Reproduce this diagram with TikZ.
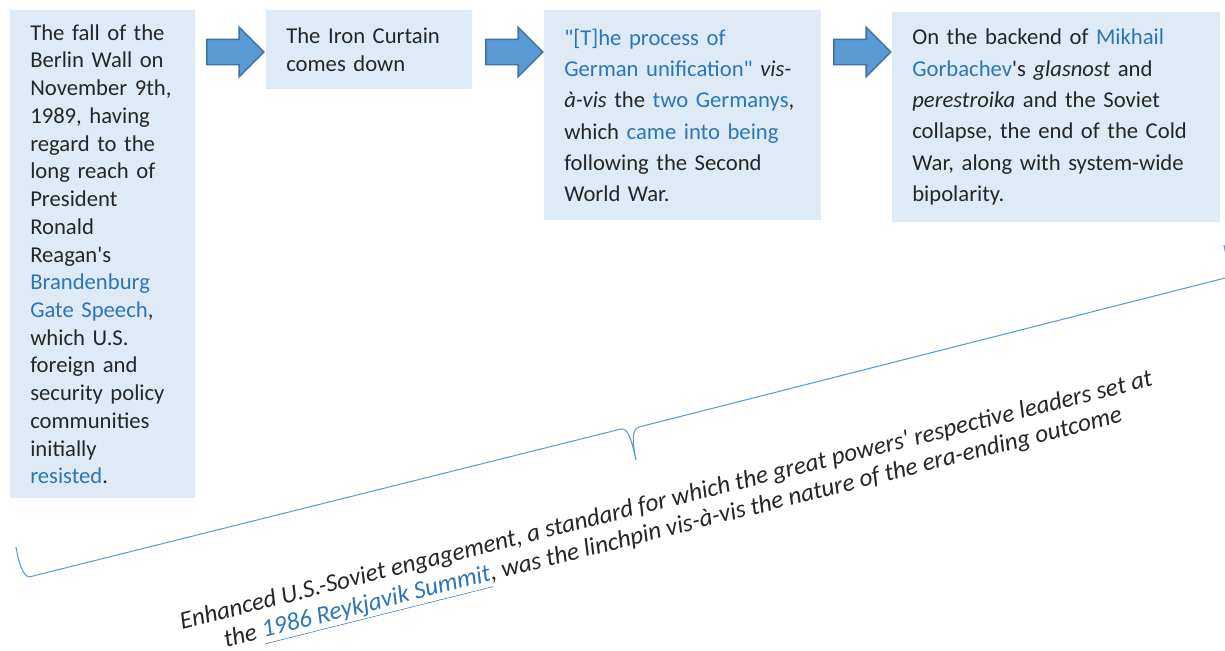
\documentclass[tikz,border=0pt]{standalone}
\usepackage{fontspec}
\setmainfont{Carlito}[Ligatures=TeXOff]
\usetikzlibrary{shapes.arrows}
\definecolor{boxblue}{HTML}{DEEBF7}
\definecolor{linkblue}{HTML}{2E75B6}
\definecolor{arrowfill}{HTML}{5B9BD5}
\definecolor{arrowline}{HTML}{41719C}
\definecolor{textgray}{HTML}{262626}
\newcommand{\lnk}[1]{\textcolor{linkblue}{#1}}
\tikzset{
  textbox/.style={fill=boxblue, anchor=north west, align=left, inner xsep=15pt, inner ysep=0pt, text=textgray},
  blockarrow/.style={single arrow, fill=arrowfill, draw=arrowline, line width=1.1pt, minimum height=42.75pt, single arrow head extend=9pt, inner xsep=0pt, inner ysep=9pt},
  bracket/.style={draw=arrowfill, line width=0.8pt}
}
\begin{document}
\begin{tikzpicture}[x=0.75pt, y=-0.75pt]
\useasboundingbox (0,0) rectangle (1225,650);
\node[textbox, text width=108.75pt, minimum height=366pt, font=\fontsize{17}{20.8}\selectfont](fall) at (10,10) {The fall of the\\ Berlin Wall on\\ November 9th,\\ 1989, having\\ regard to the\\ long reach of\\ President\\ Ronald\\ Reagan's\\ \lnk{Brandenburg}\\ \lnk{Gate Speech},\\ which U.S.\\ foreign and\\ security policy\\ communities\\ initially\\ \lnk{resisted}.};
\node[textbox, text width=124.5pt, minimum height=59.25pt, font=\fontsize{17}{20.8}\selectfont](curtain) at (266,10) {The Iron Curtain\\ comes down};
\node[textbox, text width=177.75pt, minimum height=157.5pt, font=\fontsize{17}{23.5}\selectfont](unify) at (544,10) {\lnk{"[T]he process of}\\ \lnk{German unification"} \textit{vis-}\\ \textit{à-vis} the \lnk{two Germanys},\\ which \lnk{came into being}\\ following the Second\\ World War.};
\node[textbox, text width=216pt, minimum height=157.5pt, font=\fontsize{17}{23.5}\selectfont](coldwar) at (892,12) {On the backend of \lnk{Mikhail}\\ \lnk{Gorbachev}'s \textit{glasnost} and\\ \textit{perestroika} and the Soviet\\ collapse, the end of the Cold\\ War, along with system-wide\\ bipolarity.};
\node[blockarrow](a1) at (229,52) {};
\node[blockarrow](a2) at (508,52) {};
\node[blockarrow](a3) at (856,52) {};
% brace under the boxes
\draw[bracket] (16,547) .. controls (19,565) and (23,575) .. (29,577) -- (621,429) .. controls (628,428) and (631,438) .. (636,460) .. controls (632,440) and (632,429) .. (639,427) -- (1237,275) .. controls (1231,274) and (1227,262) .. (1224,245);
\node[rotate=14.1, align=center, text=textgray, font=\itshape\fontsize{18.8}{21}\selectfont](summit) at (670,516) {Enhanced U.S.-Soviet engagement, a standard for which the great powers' respective leaders set at\\ the \textcolor{linkblue}{\underline{1986 Reykjavik Summit}}, was the linchpin vis-à-vis the nature of the era-ending outcome};
\end{tikzpicture}
\end{document}
